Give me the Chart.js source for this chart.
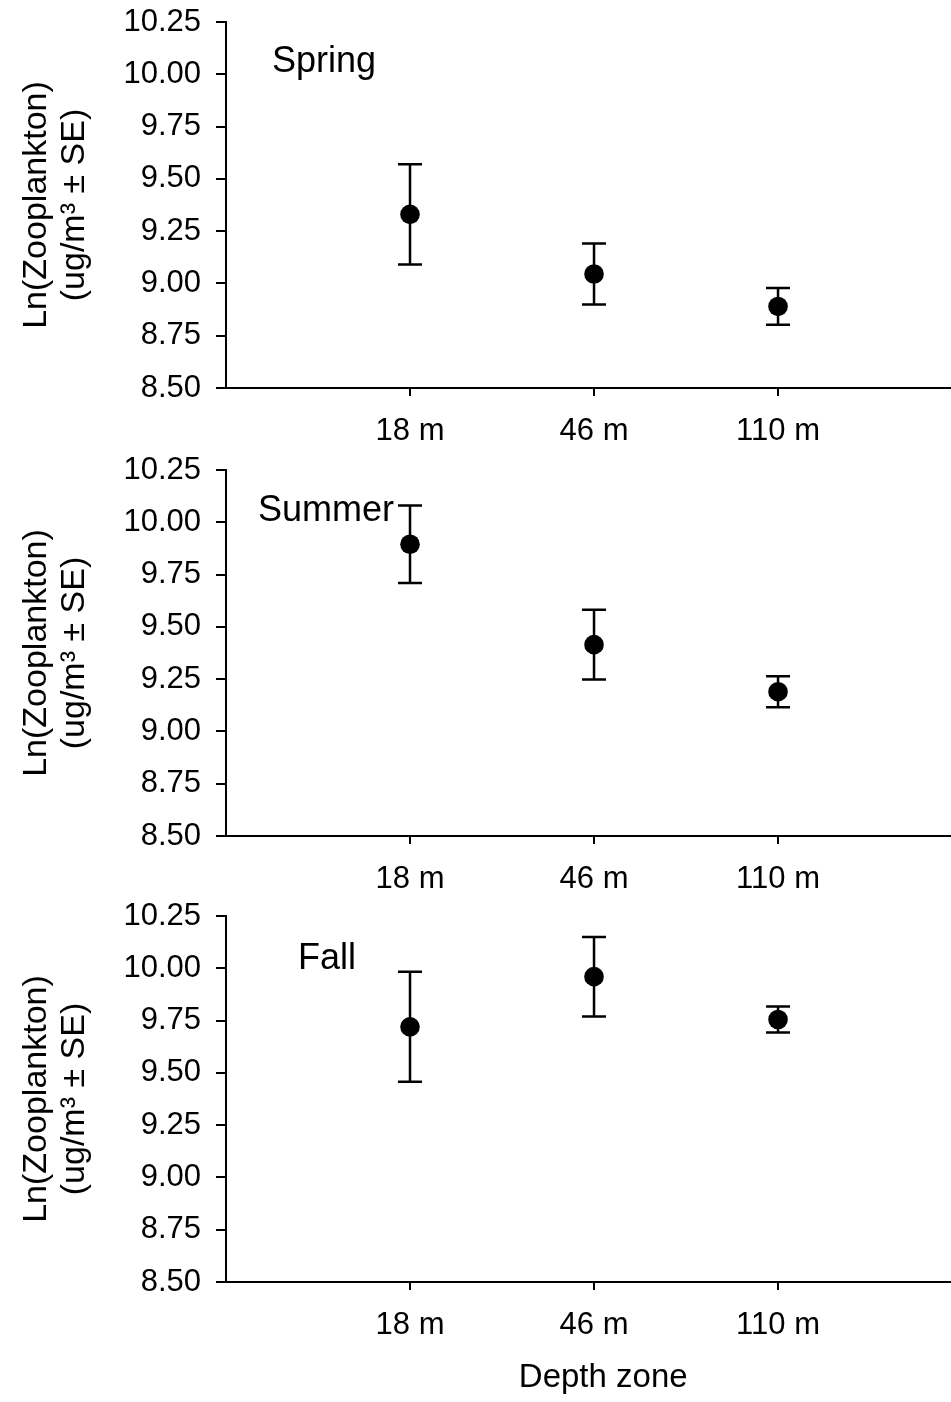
<!DOCTYPE html>
<html>
<head>
<meta charset="utf-8">
<script src="https://cdn.jsdelivr.net/npm/chart.js@4.4.1/dist/chart.umd.min.js"></script>
<style>
  html, body { margin: 0; padding: 0; background: #fff; overflow: hidden; }
  canvas.panel { position: absolute; left: 0; }
</style>
</head>
<body>
<canvas id="c-spring" class="panel" width="951" height="450" style="top:0px"></canvas>
<canvas id="c-summer" class="panel" width="951" height="450" style="top:448px"></canvas>
<canvas id="c-fall" class="panel" width="951" height="508" style="top:894px"></canvas>

<script>
'use strict';

// ── Data ─────────────────────────────────────────────────────
const depthLabels = ['18 m', '46 m', '110 m'];
const yTicks      = [8.50, 8.75, 9.00, 9.25, 9.50, 9.75, 10.00, 10.25];

const springMean = [9.33, 9.045, 8.89];
const springSE   = [0.24, 0.146, 0.088];

const summerMean = [9.895, 9.415, 9.19];
const summerSE   = [0.185, 0.167, 0.074];

const fallMean   = [9.72, 9.96, 9.755];
const fallSE     = [0.263, 0.19, 0.062];

// ── Styling ──────────────────────────────────────────────────
const FONT = "'Liberation Sans', Arial, sans-serif";
const INK  = '#000000';

// error bars drawn under the points, through the chart's own scales
const errorBars = {
  id: 'errorBars',
  beforeDatasetsDraw(chart, args, opts) {
    const { ctx, scales: { x, y } } = chart;
    const data = chart.data.datasets[0].data;
    ctx.save();
    ctx.strokeStyle = INK;
    ctx.lineWidth = 2.5;
    data.forEach((p, i) => {
      const px  = x.getPixelForValue(p.x);
      const top = y.getPixelForValue(p.y + opts.se[i]);
      const bot = y.getPixelForValue(p.y - opts.se[i]);
      ctx.beginPath();
      ctx.moveTo(px, top); ctx.lineTo(px, bot);
      ctx.moveTo(px - 12, top); ctx.lineTo(px + 12, top);
      ctx.moveTo(px - 12, bot); ctx.lineTo(px + 12, bot);
      ctx.stroke();
    });
    ctx.restore();
  }
};

// season name inside the plot + shared x title under the last panel
const panelText = {
  id: 'panelText',
  afterDraw(chart, args, opts) {
    const { ctx, scales: { x, y } } = chart;
    ctx.save();
    ctx.fillStyle = INK;
    ctx.textBaseline = 'alphabetic';
    ctx.font = `36px ${FONT}`;
    ctx.textAlign = 'left';
    ctx.fillText(opts.text, x.getPixelForValue(opts.x), y.getPixelForValue(opts.y));
    if (opts.xTitle) {
      ctx.font = `33px ${FONT}`;
      ctx.textAlign = 'center';
      ctx.fillText(opts.xTitle, x.getPixelForValue(2.05), y.bottom + 105);
    }
    ctx.restore();
  }
};

function makePanel(id, means, ses, name, namePos, isLast) {
  const canvas = document.getElementById(id);
  new Chart(canvas.getContext('2d'), {
    type: 'scatter',
    data: {
      datasets: [{
        data: means.map((m, i) => ({ x: i + 1, y: m })),
        backgroundColor: INK,
        borderWidth: 0,
        pointRadius: 9.8,
        pointHoverRadius: 9.8,
      }],
    },
    options: {
      responsive: false,
      animation: false,
      events: [],
      layout: { autoPadding: false, padding: { top: 22, right: 0, bottom: 0, left: 0 } },
      plugins: {
        legend: { display: false },
        tooltip: { enabled: false },
        errorBars: { se: ses },
        panelText: { text: name, x: namePos[0], y: namePos[1], xTitle: isLast ? 'Depth zone' : '' },
      },
      scales: {
        x: {
          type: 'linear',
          min: 0,
          max: 3.94,
          afterBuildTicks: s => { s.ticks = depthLabels.map((_, i) => ({ value: i + 1 })); },
          afterFit: s => {
            s.height = isLast ? 120 : 62;
            s.paddingLeft = 0; s.paddingRight = 0;
          },
          ticks: {
            callback: (v, i) => depthLabels[i],
            font: { family: FONT, size: 31 },
            color: INK,
            padding: 17,
            maxRotation: 0,
          },
          grid: { drawOnChartArea: false, drawTicks: true, tickLength: 8, color: INK, lineWidth: 2 },
          border: { display: true, color: INK, width: 2 },
        },
        y: {
          min: yTicks[0],
          max: yTicks[yTicks.length - 1],
          afterBuildTicks: s => { s.ticks = yTicks.map(v => ({ value: v })); },
          afterFit: s => {
            s.width = 226;
            s.paddingTop = 0; s.paddingBottom = 0;
          },
          ticks: {
            callback: v => v.toFixed(2),
            font: { family: FONT, size: 31 },
            color: INK,
            padding: 15,
          },
          grid: { drawOnChartArea: false, drawTicks: true, tickLength: 10, color: INK, lineWidth: 2 },
          border: { display: true, color: INK, width: 2 },
          title: {
            display: true,
            text: ['Ln(Zooplankton)', '(ug/m\u00B3 \u00B1 SE)'],
            font: { family: FONT, size: 34, lineHeight: 1.12 },
            color: INK,
            padding: { top: 18, bottom: 0 },
          },
        },
      },
    },
    plugins: [errorBars, panelText],
  });
}

makePanel('c-spring', springMean, springSE, 'Spring', [0.25, 10.011], false);
makePanel('c-summer', summerMean, summerSE, 'Summer', [0.174, 10.006], false);
makePanel('c-fall',   fallMean,   fallSE,   'Fall',   [0.391, 9.996], true);
</script>
</body>
</html>
